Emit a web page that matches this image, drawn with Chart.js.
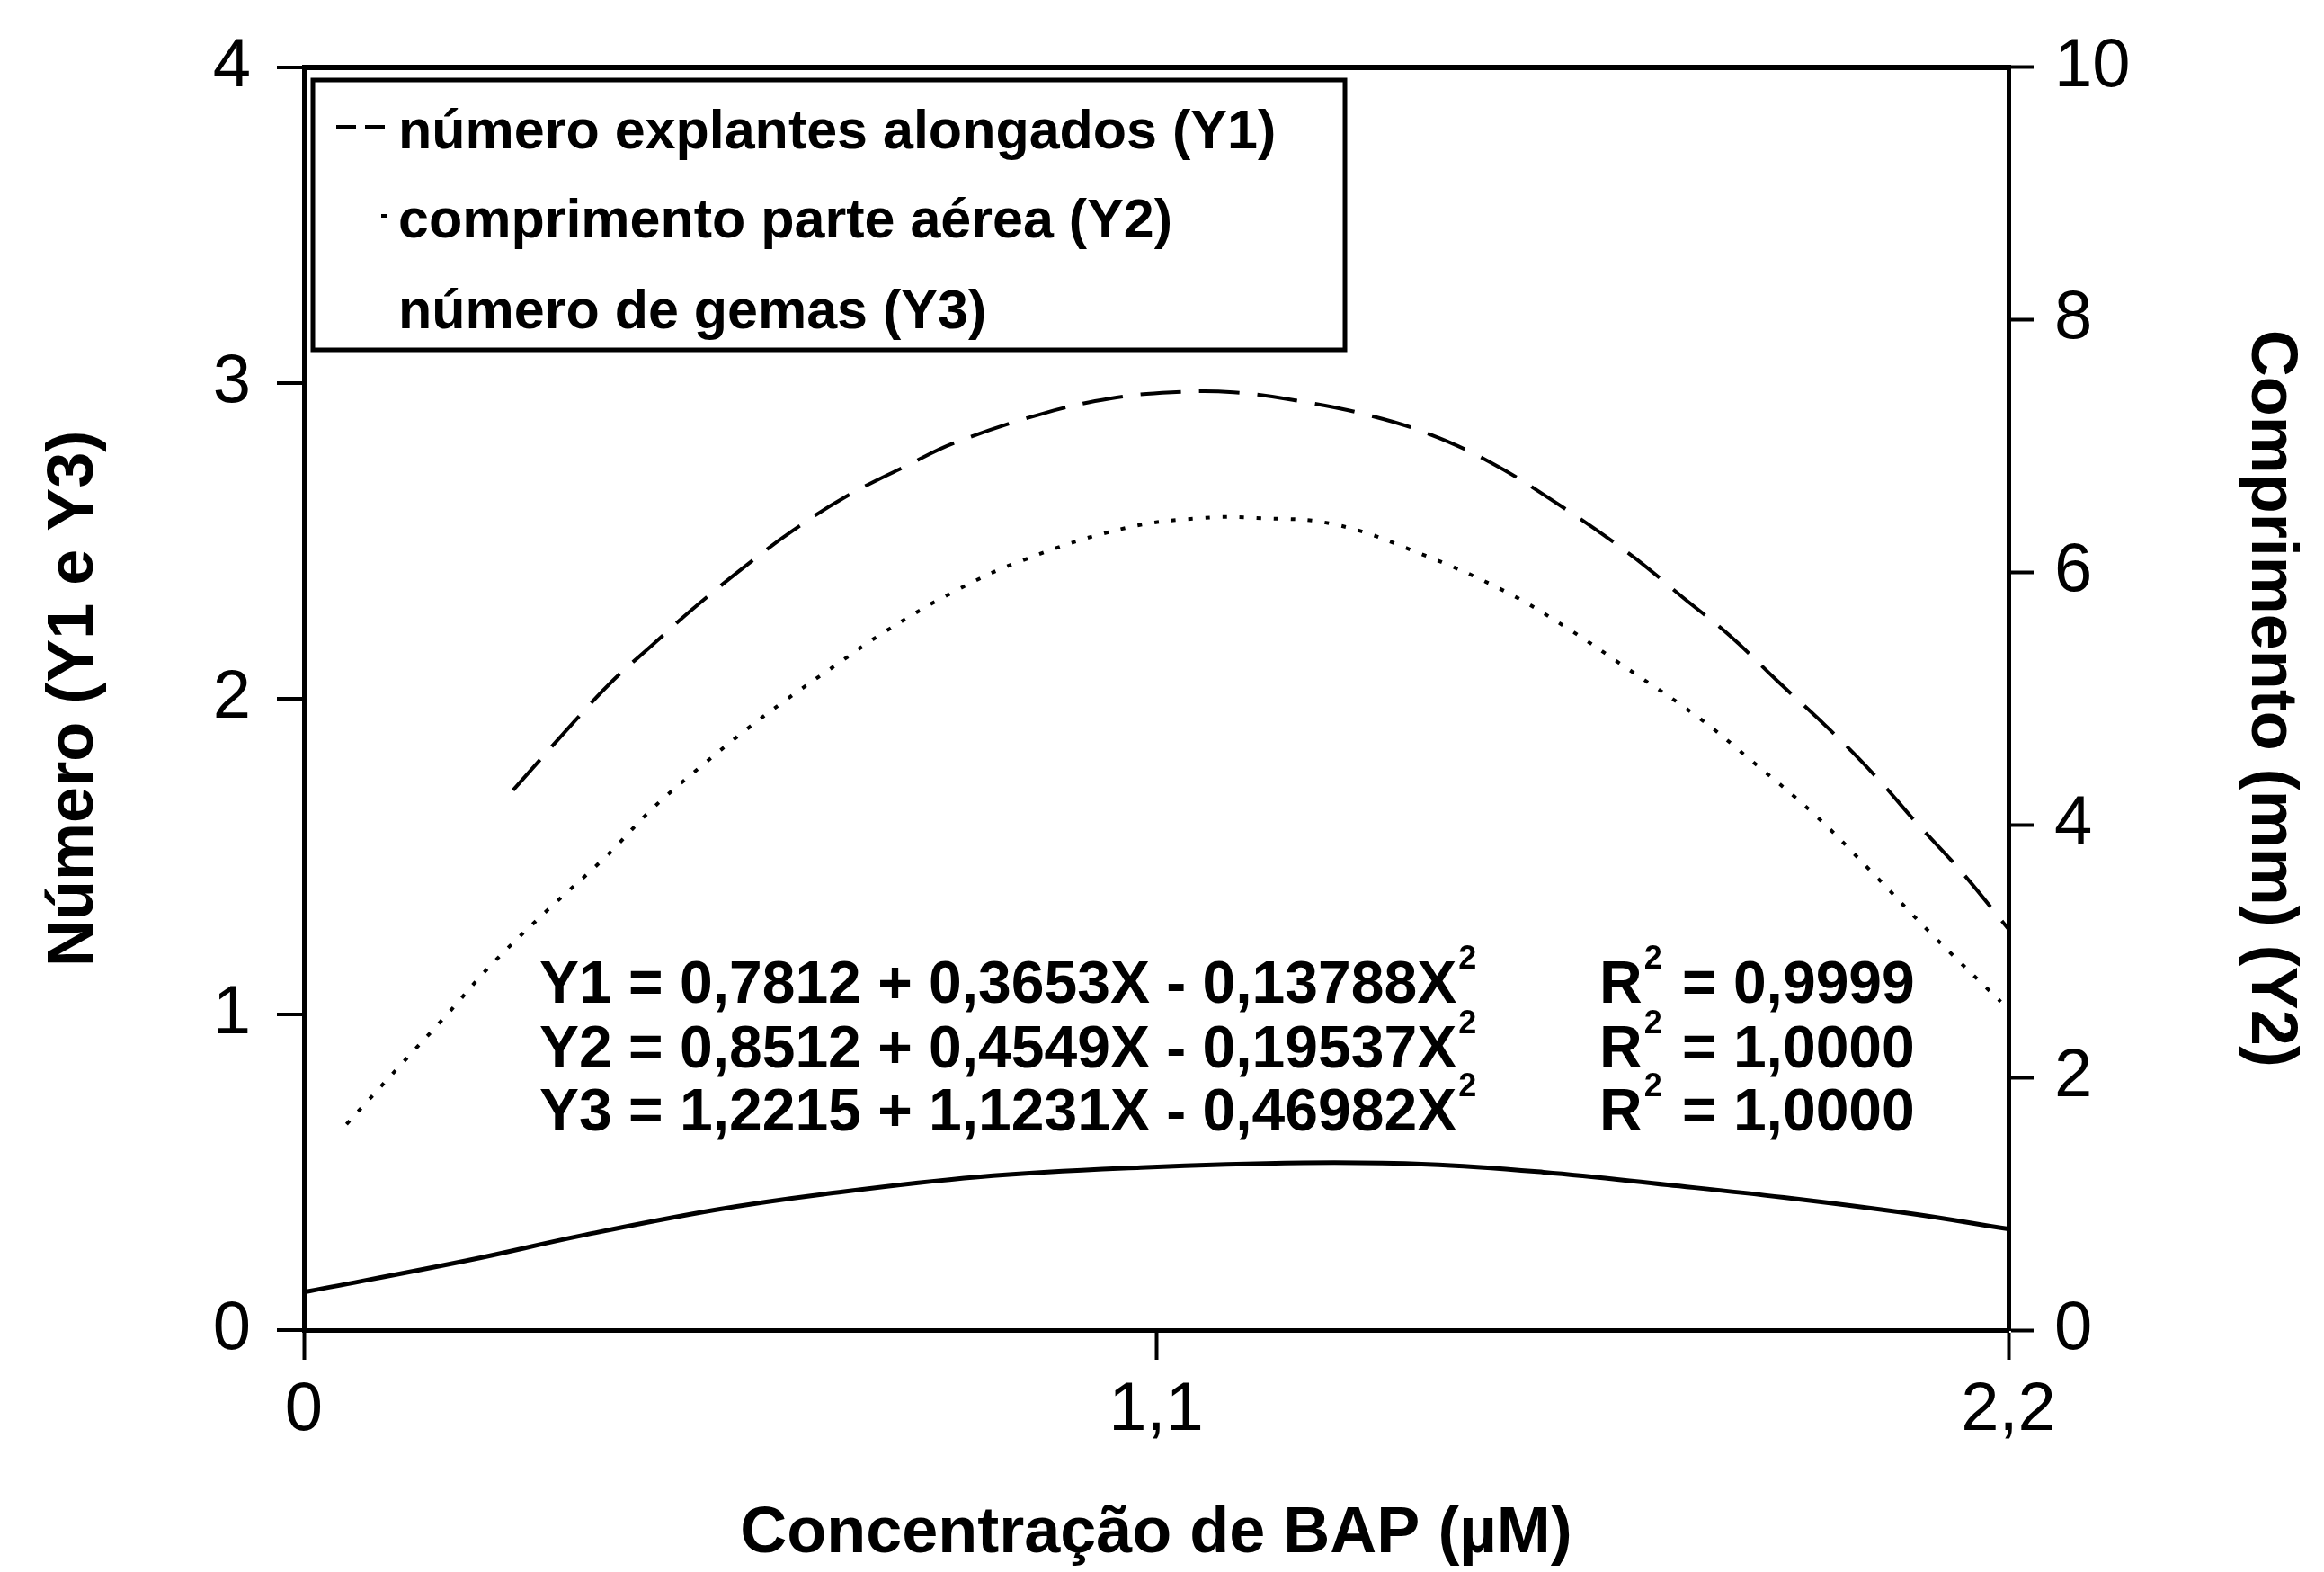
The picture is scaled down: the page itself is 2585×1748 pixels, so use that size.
<!DOCTYPE html>
<html>
<head>
<meta charset="utf-8">
<script src="https://cdn.jsdelivr.net/npm/chart.js@4.4.1/dist/chart.umd.min.js"></script>
<style>
  body { margin: 0; background: #fff; }
  canvas { display: block; }
</style>
</head>
<body>
<canvas id="bapChart" width="2585" height="1748"></canvas>
<script>
// concentration axis
var xTicks = [0, 1.1, 2.2];
var xTickLabels = ['0', '1,1', '2,2'];

// Y1 - numero explantes alongados (left axis)
var explantesX = [0.27, 0.35, 0.40, 0.45, 0.50, 0.57, 0.63, 0.70, 0.78, 0.84, 0.95, 1.04, 1.12, 1.20, 1.29, 1.37, 1.45, 1.53, 1.61, 1.71, 1.78, 1.84, 1.90, 1.97, 2.03, 2.08, 2.14, 2.20];
var explantesY = [1.71, 1.93, 2.06, 2.17, 2.28, 2.42, 2.53, 2.64, 2.74, 2.81, 2.90, 2.95, 2.97, 2.97, 2.94, 2.90, 2.84, 2.75, 2.63, 2.46, 2.32, 2.20, 2.06, 1.90, 1.75, 1.61, 1.45, 1.27];

// Y2 - comprimento parte aerea, mm (right axis)
var comprimentoX = [0.055, 0.125, 0.185, 0.24, 0.31, 0.39, 0.45, 0.51, 0.57, 0.62, 0.69, 0.75, 0.84, 0.93, 1.06, 1.16, 1.23, 1.33, 1.44, 1.55, 1.63, 1.71, 1.80, 1.87, 1.95, 2.02, 2.10, 2.19];
var comprimentoY = [1.63, 2.10, 2.50, 2.88, 3.30, 3.75, 4.13, 4.45, 4.75, 4.98, 5.28, 5.53, 5.85, 6.10, 6.35, 6.43, 6.43, 6.38, 6.15, 5.85, 5.56, 5.23, 4.85, 4.50, 4.08, 3.65, 3.14, 2.60];

// Y3 - numero de gemas (left axis)
var gemasX = [0, 0.21, 0.36, 0.53, 0.67, 0.87, 1.08, 1.29, 1.45, 1.60, 1.76, 1.91, 2.07, 2.2];
var gemasY = [0.12, 0.22, 0.30, 0.38, 0.43, 0.485, 0.515, 0.53, 0.525, 0.50, 0.46, 0.42, 0.37, 0.32];

var legendLabels = ['número explantes alongados (Y1)', 'comprimento parte aérea (Y2)', 'número de gemas (Y3)'];
var equations = ['Y1 = 0,7812 + 0,3653X - 0,13788X', 'Y2 = 0,8512 + 0,4549X - 0,19537X', 'Y3 = 1,2215 + 1,1231X - 0,46982X'];
var rSquared = ['0,9999', '1,0000', '1,0000'];

var FONT = '"Liberation Sans", Arial, sans-serif';

function toPoints(xs, ys) {
    return xs.map(function (x, i) { return { x: x, y: ys[i] }; });
}

// legend box + regression text, drawn on top of the chart
var notesPlugin = {
    id: 'notes',
    beforeDraw: function (chart) {
        var c = chart.ctx;
        c.save();
        c.fillStyle = '#fff';
        c.fillRect(0, 0, chart.width, chart.height);
        c.restore();
    },
    afterDraw: function (chart) {
        var c = chart.ctx;
        c.save();
        c.fillStyle = '#fff';
        c.fillRect(348, 89, 1148, 300);
        c.strokeStyle = '#000';
        c.lineWidth = 5;
        c.strokeRect(348, 89, 1148, 300);

        var baselines = [165, 264, 365];
        var sampleLen = [56, 6, 0];
        var sampleDash = [[22, 10], [], []];
        c.font = 'bold 61px ' + FONT;
        c.fillStyle = '#000';
        c.textBaseline = 'alphabetic';
        chart.data.datasets.forEach(function (ds, i) {
            c.fillText(ds.label, 443, baselines[i]);
            if (sampleLen[i] > 0) {
                c.beginPath();
                c.lineWidth = 4;
                c.setLineDash(sampleDash[i]);
                c.moveTo(430 - sampleLen[i], baselines[i] - 24);
                c.lineTo(430, baselines[i] - 24);
                c.stroke();
            }
        });
        c.setLineDash([]);

        var eqBase = [1115, 1187, 1257];
        equations.forEach(function (eq, i) {
            c.font = 'bold 66px ' + FONT;
            c.fillText(eq, 600, eqBase[i]);
            var w = c.measureText(eq).width;
            c.fillText('R', 1779, eqBase[i]);
            var rw = c.measureText('R').width;
            c.fillText('= ' + rSquared[i], 1871, eqBase[i]);
            c.font = 'bold 36px ' + FONT;
            c.fillText('2', 600 + w + 2, eqBase[i] - 38);
            c.fillText('2', 1779 + rw + 2, eqBase[i] - 38);
        });
        c.restore();
    }
};

var ctx = document.getElementById('bapChart').getContext('2d');
var bapChart = new Chart(ctx, {
    type: 'line',
    data: {
        datasets: [{
            label: legendLabels[0],
            data: toPoints(explantesX, explantesY),
            yAxisID: 'y',
            borderColor: '#000',
            borderWidth: 4,
            borderDash: [45, 20],
            tension: 0.4
        }, {
            label: legendLabels[1],
            data: toPoints(comprimentoX, comprimentoY),
            yAxisID: 'y2',
            borderColor: '#000',
            borderWidth: 4,
            borderDash: [5, 14],
            tension: 0.4
        }, {
            label: legendLabels[2],
            data: toPoints(gemasX, gemasY),
            yAxisID: 'y',
            borderColor: '#000',
            borderWidth: 5,
            tension: 0.4
        }]
    },
    options: {
        responsive: false,
        animation: false,
        devicePixelRatio: 1,
        layout: { padding: { top: 74, left: 0, right: 0, bottom: 0 } },
        elements: {
            point: { radius: 0 }
        },
        plugins: {
            legend: { display: false },
            tooltip: { enabled: false }
        },
        scales: {
            x: {
                type: 'linear',
                min: 0,
                max: 2.2,
                afterBuildTicks: function (scale) {
                    scale.ticks = xTicks.map(function (v) { return { value: v }; });
                },
                afterFit: function (scale) { scale.height = 269; },
                ticks: {
                    callback: function (v, i) { return xTickLabels[i]; },
                    font: { family: FONT, size: 76 },
                    color: '#000',
                    padding: 11,
                    maxRotation: 0,
                    autoSkip: false
                },
                grid: { drawOnChartArea: false, tickLength: 33, tickColor: '#000', tickWidth: 4 },
                border: { color: '#000', width: 5 },
                title: {
                    display: true,
                    text: 'Concentração de BAP (µM)',
                    font: { family: FONT, size: 72, weight: 'bold', lineHeight: 1.15 },
                    color: '#000',
                    padding: { top: 0, bottom: 0 }
                }
            },
            y: {
                position: 'left',
                min: 0,
                max: 4,
                afterFit: function (scale) { scale.width = 338; },
                ticks: {
                    stepSize: 1,
                    font: { family: FONT, size: 76 },
                    color: '#000',
                    padding: 29
                },
                grid: {
                    color: function (c) { return c.tick && c.tick.value === 4 ? '#000' : 'rgba(0,0,0,0)'; },
                    lineWidth: 6,
                    tickLength: 30,
                    tickColor: '#000',
                    tickWidth: 4
                },
                border: { color: '#000', width: 5 },
                title: {
                    display: true,
                    text: 'Número (Y1 e Y3)',
                    font: { family: FONT, size: 72, weight: 'bold' },
                    color: '#000',
                    padding: { top: 40, bottom: 0 }
                }
            },
            y2: {
                position: 'right',
                min: 0,
                max: 10,
                afterFit: function (scale) { scale.width = 351; },
                ticks: {
                    stepSize: 2,
                    font: { family: FONT, size: 76 },
                    color: '#000',
                    padding: 23
                },
                grid: { drawOnChartArea: false, tickLength: 28, tickColor: '#000', tickWidth: 4 },
                border: { color: '#000', width: 5 },
                title: {
                    display: true,
                    text: 'Comprimento (mm) (Y2)',
                    font: { family: FONT, size: 72, weight: 'bold' },
                    color: '#000',
                    padding: { top: 17, bottom: 0 }
                }
            }
        }
    },
    plugins: [notesPlugin]
});
</script>
</body>
</html>
